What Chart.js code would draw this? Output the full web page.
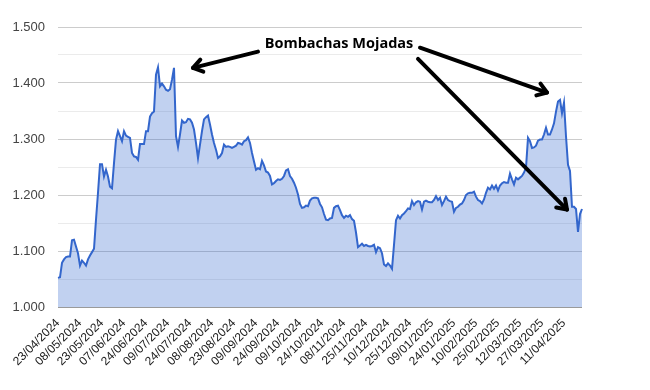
<!DOCTYPE html>
<html lang="es">
<head>
    <meta charset="UTF-8">
    <title>Dólar blue</title>
    <script src="https://cdn.jsdelivr.net/npm/chart.js@4.4.1/dist/chart.umd.min.js"></script>
    <style>
        html, body { margin: 0; padding: 0; background: #fff; }
        #wrap { width: 650px; height: 390px; }
    </style>
</head>
<body>
    <div id="wrap"><canvas id="chart" width="650" height="390"></canvas></div>

    <script>
        // Tick labels shown every 11 business days
        const tickLabels = ['23/04/2024', '08/05/2024', '23/05/2024', '07/06/2024', '24/06/2024', '09/07/2024',
            '24/07/2024', '08/08/2024', '23/08/2024', '09/09/2024', '24/09/2024', '09/10/2024',
            '24/10/2024', '08/11/2024', '25/11/2024', '10/12/2024', '25/12/2024', '09/01/2025',
            '24/01/2025', '10/02/2025', '25/02/2025', '12/03/2025', '27/03/2025', '11/04/2025'];
        const tickEvery = 11;

        // Daily rate (one row per tick interval)
        const rates = [
            1052, 1053, 1079, 1085, 1089, 1090, 1090, 1119, 1120, 1108, 1096,
            1074, 1083, 1079, 1074, 1085, 1092, 1098, 1104, 1156, 1204, 1255,
            1255, 1233, 1245, 1233, 1215, 1212, 1257, 1299, 1314, 1305, 1296,
            1314, 1306, 1304, 1302, 1275, 1269, 1268, 1263, 1291, 1291, 1291,
            1314, 1314, 1340, 1346, 1349, 1415, 1428, 1394, 1399, 1394, 1388,
            1386, 1389, 1406, 1427, 1305, 1286, 1308, 1333, 1329, 1330, 1336,
            1335, 1329, 1317, 1293, 1266, 1290, 1314, 1335, 1339, 1342, 1326,
            1308, 1293, 1281, 1266, 1269, 1275, 1290, 1286, 1287, 1286, 1284,
            1286, 1288, 1293, 1292, 1290, 1296, 1298, 1303, 1293, 1275, 1260,
            1245, 1248, 1246, 1261, 1253, 1242, 1240, 1234, 1219, 1221, 1225,
            1228, 1227, 1229, 1234, 1244, 1246, 1234, 1229, 1222, 1213, 1201,
            1184, 1177, 1178, 1181, 1180, 1190, 1194, 1195, 1195, 1194, 1184,
            1178, 1166, 1156, 1155, 1158, 1159, 1177, 1180, 1181, 1173, 1164,
            1159, 1163, 1161, 1164, 1157, 1154, 1133, 1107, 1110, 1113, 1109,
            1111, 1109, 1108, 1109, 1111, 1098, 1107, 1105, 1096, 1076, 1073,
            1078, 1074, 1068, 1111, 1155, 1163, 1158, 1164, 1167, 1171, 1176,
            1175, 1189, 1182, 1187, 1189, 1188, 1174, 1188, 1190, 1188, 1187,
            1187, 1191, 1198, 1191, 1195, 1182, 1189, 1197, 1191, 1189, 1188,
            1170, 1177, 1179, 1183, 1185, 1191, 1200, 1203, 1204, 1204, 1206,
            1197, 1191, 1189, 1185, 1192, 1204, 1213, 1210, 1217, 1211, 1217,
            1208, 1217, 1221, 1223, 1222, 1222, 1238, 1228, 1219, 1231, 1228,
            1231, 1234, 1240, 1249, 1302, 1296, 1284, 1285, 1288, 1297, 1299,
            1299, 1308, 1320, 1308, 1308, 1317, 1328, 1349, 1367, 1370, 1346,
            1365, 1305, 1254, 1243, 1179, 1179, 1175, 1134, 1166, 1175
        ];

        // Annotation: text and arrows, in data units (point index, rate)
        const noteText = 'Bombachas Mojadas';
        const notePos = [140.5, 1469];
        const arrows = [
            { from: [100, 1456], to: [67.5, 1427] },
            { from: [181, 1463], to: [244.5, 1383] },
            { from: [180, 1443], to: [254.5, 1174] }
        ];

        function fmt(v) {
            return String(Math.round(v)).replace(/\B(?=(\d{3})+(?!\d))/g, '.');
        }

        const annotationPlugin = {
            id: 'notes',
            afterDraw(chart) {
                const ctx = chart.ctx;
                const x = chart.scales.x, y = chart.scales.y;
                ctx.save();
                ctx.strokeStyle = '#000';
                ctx.lineWidth = 4;
                ctx.lineCap = 'round';
                ctx.lineJoin = 'round';
                arrows.forEach(a => {
                    const x1 = x.getPixelForValue(a.from[0]), y1 = y.getPixelForValue(a.from[1]);
                    const x2 = x.getPixelForValue(a.to[0]), y2 = y.getPixelForValue(a.to[1]);
                    const ang = Math.atan2(y2 - y1, x2 - x1);
                    ctx.beginPath();
                    ctx.moveTo(x1, y1);
                    ctx.lineTo(x2, y2);
                    ctx.stroke();
                    const len = 11, spread = 0.6;
                    ctx.beginPath();
                    ctx.moveTo(x2 - len * Math.cos(ang - spread), y2 - len * Math.sin(ang - spread));
                    ctx.lineTo(x2, y2);
                    ctx.lineTo(x2 - len * Math.cos(ang + spread), y2 - len * Math.sin(ang + spread));
                    ctx.stroke();
                });
                ctx.fillStyle = '#000';
                ctx.font = 'bold 14.5px "Open Sans", sans-serif';
                ctx.textAlign = 'center';
                ctx.textBaseline = 'middle';
                ctx.fillText(noteText, x.getPixelForValue(notePos[0]), y.getPixelForValue(notePos[1]));
                ctx.restore();
            }
        };

        new Chart(document.getElementById('chart'), {
            type: 'line',
            data: {
                labels: rates.map((_, i) => i),
                datasets: [{
                    data: rates,
                    borderColor: '#3366cc',
                    backgroundColor: 'rgba(51, 102, 204, 0.3)',
                    borderWidth: 2,
                    pointRadius: 0,
                    tension: 0,
                    fill: 'start'
                }]
            },
            options: {
                responsive: false,
                animation: false,
                layout: { padding: { top: 27, right: 68, left: 0, bottom: 0 } },
                plugins: {
                    legend: { display: false },
                    tooltip: { enabled: false }
                },
                scales: {
                    x: {
                        grid: { display: false },
                        border: { display: false },
                        afterFit: s => { s.height = 83; },
                        ticks: {
                            autoSkip: false,
                            minRotation: 45,
                            maxRotation: 45,
                            padding: 1,
                            color: '#1a1a1a',
                            font: { family: 'Arial, "Liberation Sans"', size: 12 },
                            callback: (v, i) => i % tickEvery === 0 ? tickLabels[i / tickEvery] : null
                        }
                    },
                    y: {
                        min: 1000,
                        max: 1500,
                        afterFit: s => { s.width = 58; },
                        border: { display: false },
                        grid: {
                            drawTicks: false,
                            color: c => c.tick.value === 1000 ? '#9a9a9a' : (c.tick.value % 100 === 0 ? '#cccccc' : '#ebebeb')
                        },
                        ticks: {
                            stepSize: 50,
                            padding: 13,
                            color: '#444',
                            font: { family: 'Arial, "Liberation Sans"', size: 13 },
                            callback: v => v % 100 === 0 ? fmt(v) : ''
                        }
                    }
                }
            },
            plugins: [annotationPlugin]
        });
    </script>
</body>
</html>
